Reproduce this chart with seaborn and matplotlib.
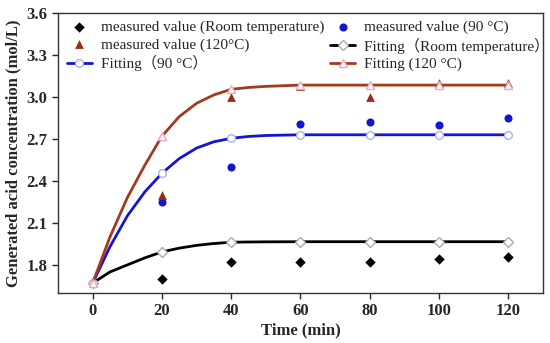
import seaborn as sns
import matplotlib.pyplot as plt

# measured points (every 20 min)
t_meas = [0, 20, 40, 60, 80, 100, 120]
room_meas = [1.67, 1.70, 1.82, 1.82, 1.82, 1.84, 1.86]
c90_meas = [1.67, 2.25, 2.50, 2.81, 2.82, 2.80, 2.85]
c120_meas = [1.67, 2.30, 3.00, 3.08, 3.00, 3.10, 3.10]

# fitting curves
t_fit = [0, 5, 10, 15, 20, 25, 30, 35, 40, 45, 50, 60, 80, 100, 120]
room_fit = [1.67, 1.75, 1.80, 1.85, 1.893, 1.92, 1.94, 1.953, 1.962, 1.964, 1.965, 1.966, 1.966, 1.966, 1.966]
c90_fit = [1.67, 1.93, 2.15, 2.32, 2.455, 2.56, 2.635, 2.68, 2.705, 2.718, 2.725, 2.73, 2.73, 2.73, 2.73]
c120_fit = [1.67, 2.00, 2.28, 2.51, 2.72, 2.86, 2.955, 3.015, 3.055, 3.068, 3.076, 3.085, 3.085, 3.085, 3.085]

sns.set_style("ticks")
plt.rcParams['font.family'] = ['Liberation Serif', 'Noto Sans CJK SC']

fig = plt.figure(figsize=(5.5, 3.43), dpi=100)
ax = fig.add_axes([0.1055, 0.146, 0.8815, 0.816])

marks = [t_fit.index(t) for t in t_meas]
brown = '#A23A1C'
blue = '#1414D8'

sns.lineplot(x=t_fit, y=room_fit, ax=ax, color='black', lw=2, marker='D', markevery=marks,
             ms=5, mfc='white', mec='#aaaaaa', mew=1, label='Fitting（Room temperature）')
sns.lineplot(x=t_fit, y=c90_fit, ax=ax, color=blue, lw=2, marker='o', markevery=marks,
             ms=5.5, mfc='white', mec='#b0b0e8', mew=1, label='Fitting（90 °C）')
sns.lineplot(x=t_fit, y=c120_fit, ax=ax, color=brown, lw=2, marker='^', markevery=marks,
             ms=6, mfc='white', mec='#f0a8b8', mew=1, label='Fitting (120 °C)')

sns.scatterplot(x=t_meas, y=room_meas, ax=ax, color='black', marker='D', s=28, linewidth=0,
                label='measured value (Room temperature)', zorder=1)
sns.scatterplot(x=t_meas, y=c90_meas, ax=ax, color=blue, marker='o', s=34, linewidth=0,
                label='measured value (90 °C)', zorder=1)
sns.scatterplot(x=t_meas, y=c120_meas, ax=ax, color='#982C16', marker='^', s=40, linewidth=0,
                label='measured value (120°C)', zorder=1)

ax.set_xlim(-10, 130)
ax.set_ylim(1.6, 3.6)
ax.set_xticks(t_meas)
ax.set_yticks([1.8, 2.1, 2.4, 2.7, 3.0, 3.3, 3.6])
ax.set_yticklabels(['1.8', '2.1', '2.4', '2.7', '3.0', '3.3', '3.6'])
ax.tick_params(labelsize=12, length=4, width=1, direction='out')
for lab in ax.get_xticklabels() + ax.get_yticklabels():
    lab.set_fontweight('bold')
ax.set_xlabel('Time (min)', fontsize=12, fontweight='bold', labelpad=2)
ax.set_ylabel('Generated acid concentration (mol/L)', fontsize=12, fontweight='bold', labelpad=4)
for s in ax.spines.values():
    s.set_color('#333333')
    s.set_linewidth(1)

handles, labels = ax.get_legend_handles_labels()
order = [3, 5, 1, 4, 0, 2]
ax.legend([handles[i] for i in order], [labels[i] for i in order], ncol=2, frameon=False,
          loc='upper left', bbox_to_anchor=(0.0, 1.006), fontsize=11, numpoints=1,
          handlelength=1.6, handletextpad=0.6, columnspacing=0.4, labelspacing=0.22,
          borderaxespad=0.2)

fig.savefig('out.png', dpi=100)
